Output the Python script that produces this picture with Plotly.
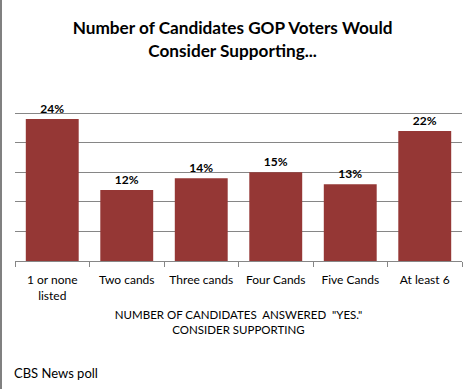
import plotly.graph_objects as go

categories = ["1 or none<br>listed", "Two cands", "Three cands", "Four Cands", "Five Cands", "At least 6"]
values = [24, 12, 14, 15, 13, 22]
labels = [f"{v}%" for v in values]

FONT = "Lato, Open Sans, sans-serif"

fig = go.Figure(go.Bar(
    x=categories, y=values, text=labels, textposition="outside",
    textfont=dict(family=FONT, size=12, color="#000000"),
    texttemplate="<b>%{text}</b>",
    marker=dict(color="#953735", line=dict(width=0)),
    cliponaxis=False,
))

fig.update_layout(
    width=469, height=389,
    margin=dict(l=15, r=7, t=112, b=128, autoexpand=False),
    paper_bgcolor="white", plot_bgcolor="white",
    bargap=0.29,
    showlegend=False,
    font=dict(family=FONT, color="#000000"),
    title=dict(
        text="<b>Number of Candidates GOP Voters Would<br>Consider Supporting...</b>",
        x=0.496, xanchor="center", xref="container", y=0.912, yanchor="top",
        font=dict(size=17.2, family=FONT, color="#000000"),
    ),
    xaxis=dict(
        automargin=False,
        showline=True, linecolor="#868686", linewidth=1,
        ticks="outside", tickson="boundaries", ticklen=5, tickcolor="#868686",
        ticklabelstandoff=8,
        tickfont=dict(size=12), showgrid=False,
        title=dict(text="NUMBER OF CANDIDATES  ANSWERED  \"YES.\"<br>CONSIDER SUPPORTING",
                   font=dict(size=11.5), standoff=8),
    ),
    yaxis=dict(
        automargin=False,
        range=[0, 25.2], tickvals=[0, 5, 10, 15, 20, 25], showticklabels=False,
        showgrid=True, gridcolor="#868686", gridwidth=1,
        zeroline=False, showline=False, ticks="",
    ),
    shapes=[dict(type="line", xref="paper", yref="paper",
                 x0=-14/447, x1=-14/447, y0=-129/149, y1=1 + 112/149,
                 line=dict(color="#808080", width=2))],
    annotations=[dict(text="CBS News poll", xref="paper", yref="paper",
                      x=-3/447, y=-112/149, xanchor="left", yanchor="middle",
                      showarrow=False, font=dict(size=13, color="#000000"))],
)

fig.write_html("out.html", config={"displayModeBar": False},
               post_script="document.body.style.margin='0';")
